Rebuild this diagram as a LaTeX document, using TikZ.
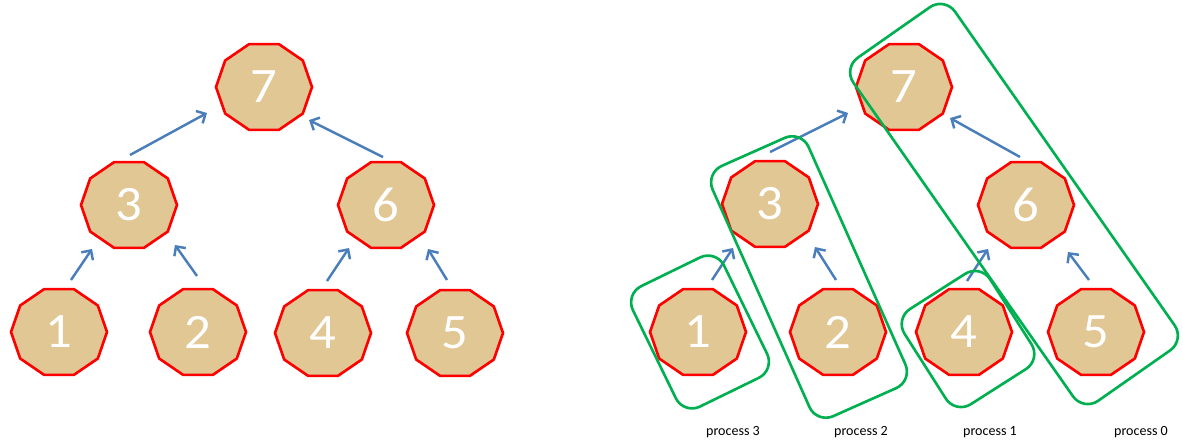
\documentclass[tikz,border=0pt]{standalone}
\usepackage{fontspec}
\setmainfont{Carlito}
\usetikzlibrary{shapes.geometric,arrows.meta}
\definecolor{papyrus}{RGB}{224,199,147}
\definecolor{heapred}{RGB}{255,0,0}
\definecolor{arrowblue}{RGB}{74,126,187}
\definecolor{procgreen}{RGB}{0,176,80}

\begin{document}
\begin{tikzpicture}[x=0.02cm,y=-0.02cm,
  elem/.style={regular polygon,regular polygon sides=10,draw=heapred,fill=papyrus,
    line width=1.5pt,inner sep=0pt,minimum size=1.92cm,yscale=0.94,
    text=white,font=\fontsize{30}{30}\selectfont},
  arr/.style={-{Straight Barb[length=4pt,width=8pt]},line width=1.4pt,draw=arrowblue},
  grp/.style={rectangle,draw=procgreen,line width=1.5pt,rounded corners=0.36cm},
  lbl/.style={font=\fontsize{8}{8}\selectfont}]

  \useasboundingbox (0,0) rectangle (1183,443);

  % left tree
  \node[elem] (l7) at (264,87) {7};
  \node[elem] (l3) at (129,205) {3};
  \node[elem] (l6) at (386,205) {6};
  \node[elem] (l1) at (59,332) {1};
  \node[elem] (l2) at (198,332) {2};
  \node[elem] (l4) at (323,333) {4};
  \node[elem] (l5) at (455,333) {5};

  \draw[arr] ([shift={(12,-52)}]l1.center) -- ([shift={(-37,44)}]l3.center);
  \draw[arr] ([shift={(-1,-56)}]l2.center) -- ([shift={(46,40)}]l3.center);
  \draw[arr] ([shift={(1,-50)}]l3.center) -- ([shift={(-57,26)}]l7.center);
  \draw[arr] ([shift={(-3,-48)}]l6.center) -- ([shift={(45,33)}]l7.center);
  \draw[arr] ([shift={(4,-52)}]l4.center) -- ([shift={(-37,43)}]l6.center);
  \draw[arr] ([shift={(-8,-53)}]l5.center) -- ([shift={(42,44)}]l6.center);

  % right tree, split over processes
  \node[elem] (r7) at (904,87) {7};
  \node[elem] (r3) at (770,204) {3};
  \node[elem] (r6) at (1026,205) {6};
  \node[elem] (r1) at (698,332) {1};
  \node[elem] (r2) at (838,332) {2};
  \node[elem] (r4) at (964,332) {4};
  \node[elem] (r5) at (1096,332) {5};

  \draw[arr] ([shift={(14,-52)}]r1.center) -- ([shift={(-37,44)}]r3.center);
  \draw[arr] ([shift={(-2,-52)}]r2.center) -- ([shift={(45,43)}]r3.center);
  \draw[arr] ([shift={(0,-52)}]r3.center) -- ([shift={(-56,26)}]r7.center);
  \draw[arr] ([shift={(-6,-48)}]r6.center) -- ([shift={(46,31)}]r7.center);
  \draw[arr] ([shift={(3,-51)}]r4.center) -- ([shift={(-38,44)}]r6.center);
  \draw[arr] ([shift={(-7,-52)}]r5.center) -- ([shift={(42,47)}]r6.center);

  \node[grp,rotate=26,minimum width=2.03cm,minimum height=2.68cm] (p3box) at (700,332) {};
  \node[grp,rotate=24,minimum width=2.1cm,minimum height=5.48cm] (p2box) at (809,277) {};
  \node[grp,rotate=32.5,minimum width=2.03cm,minimum height=2.26cm] (p1box) at (968,339) {};
  \node[grp,rotate=35,minimum width=2.48cm,minimum height=8.38cm] (p0box) at (1014,204) {};

  \node[lbl] (p3) at (733,432) {process 3};
  \node[lbl] (p2) at (861,432) {process 2};
  \node[lbl] (p1) at (990,432) {process 1};
  \node[lbl] (p0) at (1141,432) {process 0};
\end{tikzpicture}
\end{document}
